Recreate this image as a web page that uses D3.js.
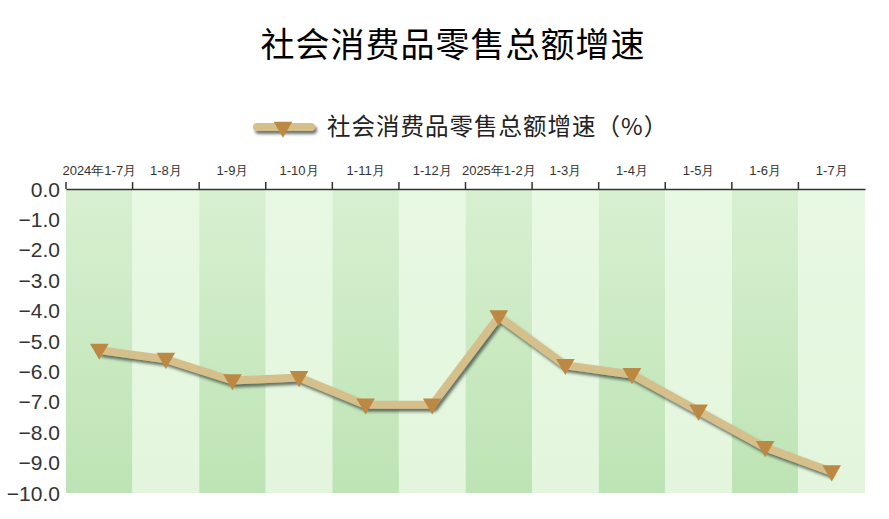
<!DOCTYPE html>
<html>
<head>
<meta charset="utf-8">
<script src="https://cdn.jsdelivr.net/npm/d3@7"></script>
<style>
  body { margin: 0; background: #fff; }
  svg { display: block; }
</style>
</head>
<body>
<svg id="chart" width="889" height="519"></svg>
<script>
const width = 889, height = 519;

// data
const categories = ["2024年1-7月", "1-8月", "1-9月", "1-10月", "1-11月", "1-12月",
  "2025年1-2月", "1-3月", "1-4月", "1-5月", "1-6月", "1-7月"];
const growth = [-5.3, -5.6, -6.3, -6.2, -7.1, -7.1, -4.2, -5.8, -6.1, -7.3, -8.5, -9.3];
const yTicks = [0, -1, -2, -3, -4, -5, -6, -7, -8, -9, -10];

const svg = d3.select("#chart");
const margin = { top: 189, right: 24, bottom: 26, left: 66 };

const x = d3.scaleBand()
  .domain(categories)
  .range([margin.left, width - margin.right]);

const y = d3.scaleLinear()
  .domain([0, -10])
  .range([margin.top, height - margin.bottom]);

const defs = svg.append("defs");

// band gradients
const dark = defs.append("linearGradient").attr("id", "bandDark")
  .attr("x1", 0).attr("y1", 0).attr("x2", 0).attr("y2", 1);
dark.append("stop").attr("offset", "0%").attr("stop-color", "#d8f0d1");
dark.append("stop").attr("offset", "100%").attr("stop-color", "#bde4b4");

const light = defs.append("linearGradient").attr("id", "bandLight")
  .attr("x1", 0).attr("y1", 0).attr("x2", 0).attr("y2", 1);
light.append("stop").attr("offset", "0%").attr("stop-color", "#e8f8e3");
light.append("stop").attr("offset", "100%").attr("stop-color", "#e3f6dd");

// shadow under the line (user space so a flat line still gets it)
const shadow = defs.append("filter").attr("id", "shadow")
  .attr("filterUnits", "userSpaceOnUse")
  .attr("x", -400).attr("y", -400).attr("width", 1800).attr("height", 1400);
shadow.append("feDropShadow")
  .attr("dx", 2).attr("dy", 3).attr("stdDeviation", 1.6)
  .attr("flood-color", "#2d3a30").attr("flood-opacity", 0.7);

// title
svg.append("text")
  .attr("x", 453)
  .attr("y", 57)
  .attr("text-anchor", "middle")
  .attr("font-family", "'Noto Sans CJK SC', sans-serif")
  .attr("font-size", 34)
  .attr("letter-spacing", 1)
  .attr("fill", "#000")
  .text("社会消费品零售总额增速");

// legend
const legend = svg.append("g").attr("transform", "translate(255,127)");
legend.append("line")
  .attr("x1", 2).attr("x2", 56).attr("y1", 0).attr("y2", 0)
  .attr("stroke", "#d5c08c").attr("stroke-width", 8)
  .attr("stroke-linecap", "round")
  .attr("filter", "url(#shadow)");
legend.append("path")
  .attr("d", d3.symbol(d3.symbolTriangle, 150)())
  .attr("transform", "translate(28,0) rotate(180)")
  .attr("fill", "#bb8944");
legend.append("text")
  .attr("x", 72).attr("y", 8)
  .attr("font-family", "'Noto Sans CJK SC', sans-serif")
  .attr("font-size", 23.5)
  .attr("letter-spacing", 1)
  .attr("fill", "#222")
  .text("社会消费品零售总额增速（%）");

// background bands
svg.append("g").selectAll("rect")
  .data(categories)
  .join("rect")
  .attr("x", d => x(d))
  .attr("y", y(0))
  .attr("width", x.bandwidth())
  .attr("height", y(-10) - y(0))
  .attr("fill", (d, i) => i % 2 === 0 ? "url(#bandDark)" : "url(#bandLight)");

// top axis
const xAxis = svg.append("g")
  .attr("transform", `translate(0,${y(0)})`)
  .call(d3.axisTop(x).tickSize(0).tickPadding(14));
xAxis.select(".domain").attr("stroke", "#333").attr("stroke-width", 1.5);
xAxis.selectAll("text")
  .attr("font-family", "'Liberation Sans', Arial, sans-serif")
  .attr("font-size", 13)
  .attr("fill", "#333");
svg.append("g").selectAll("line")
  .data(categories)
  .join("line")
  .attr("x1", d => x(d)).attr("x2", d => x(d))
  .attr("y1", y(0) - 7).attr("y2", y(0))
  .attr("stroke", "#333").attr("stroke-width", 1.5);

// left labels
svg.append("g").selectAll("text")
  .data(yTicks)
  .join("text")
  .attr("x", 60)
  .attr("y", d => y(d) + 7.5)
  .attr("text-anchor", "end")
  .attr("font-family", "'Liberation Sans', Arial, sans-serif")
  .attr("font-size", 21)
  .attr("fill", "#333")
  .text(d => d3.format(".1f")(d));

// line
const cx = (d, i) => x(categories[i]) + x.bandwidth() / 2;
const line = d3.line().x(cx).y(d => y(d));

svg.append("path")
  .datum(growth)
  .attr("d", line)
  .attr("fill", "none")
  .attr("stroke", "#d5c08c")
  .attr("stroke-width", 8)
  .attr("stroke-linejoin", "round")
  .attr("filter", "url(#shadow)");

// markers
svg.append("g").selectAll("path")
  .data(growth)
  .join("path")
  .attr("d", d3.symbol(d3.symbolTriangle, 150)())
  .attr("transform", (d, i) => `translate(${cx(d, i)},${y(d) - 1}) rotate(180)`)
  .attr("fill", "#bb8944");
</script>
</body>
</html>
